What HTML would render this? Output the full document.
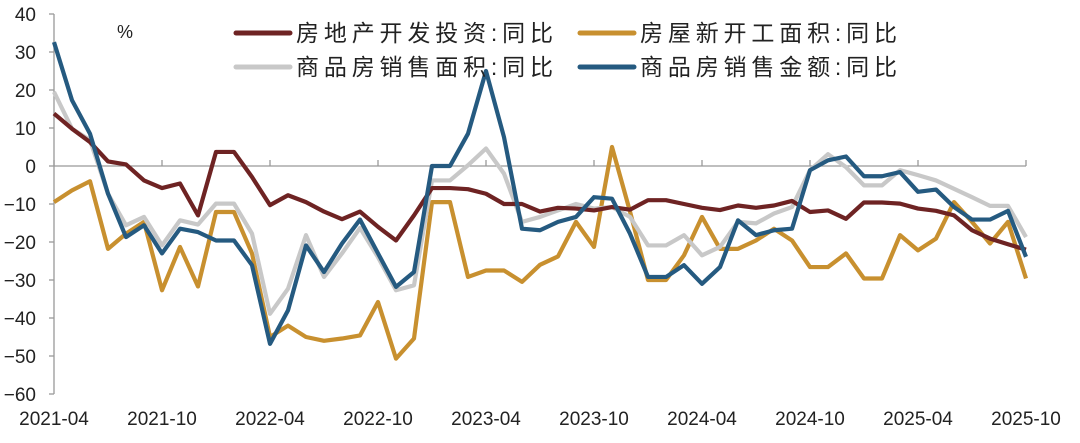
<!DOCTYPE html>
<html><head><meta charset="utf-8"><style>
html,body{margin:0;padding:0;background:#fff;}
svg{display:block;font-family:"Liberation Sans","Noto Sans CJK SC",sans-serif;}
</style></head><body>
<svg id="chart" width="1080" height="443"></svg>
<script>
const months = ["2021-04","2021-05","2021-06","2021-07","2021-08","2021-09","2021-10","2021-11","2021-12","2022-01","2022-02","2022-03","2022-04","2022-05","2022-06","2022-07","2022-08","2022-09","2022-10","2022-11","2022-12","2023-01","2023-02","2023-03","2023-04","2023-05","2023-06","2023-07","2023-08","2023-09","2023-10","2023-11","2023-12","2024-01","2024-02","2024-03","2024-04","2024-05","2024-06","2024-07","2024-08","2024-09","2024-10","2024-11","2024-12","2025-01","2025-02","2025-03","2025-04","2025-05","2025-06","2025-07","2025-08","2025-09","2025-10"];
const investment = [13.8,9.8,6.3,1.2,0.4,-3.8,-5.8,-4.6,-13,3.7,3.7,-2.9,-10.3,-7.7,-9.5,-12,-14,-12,-16,-19.6,-13,-5.8,-5.8,-6.1,-7.3,-10,-10,-12,-11,-11.2,-11.7,-10.8,-11.5,-9,-9,-10,-11,-11.6,-10.4,-11,-10.4,-9.2,-12.1,-11.7,-13.9,-9.6,-9.6,-9.9,-11.2,-11.8,-13,-16.9,-19.1,-20.6,-22];
const newStarts = [-9.5,-6.4,-4,-21.8,-17.8,-14.7,-32.7,-21.3,-31.7,-12.1,-12.1,-23,-45,-42,-45,-46,-45.4,-44.6,-35.8,-50.7,-45.4,-9.5,-9.5,-29.2,-27.5,-27.5,-30.5,-26,-23.8,-14.7,-21.3,5,-12,-30,-30,-23.5,-13.4,-21.8,-21.8,-19.6,-16.5,-19.6,-26.6,-26.6,-23,-29.6,-29.6,-18.2,-22.2,-19.1,-9.5,-14.7,-20.4,-14.7,-29.6];
const salesArea = [19.5,9.8,6.8,-7.3,-15.6,-13.4,-20.9,-14.3,-15.4,-9.9,-9.9,-17.8,-38.9,-32.3,-18.2,-29.2,-23,-16.3,-24,-32.7,-31.4,-3.8,-3.8,0.2,4.6,-2,-14.7,-13.4,-11.7,-10,-11.2,-10.8,-13.4,-20.9,-20.9,-18.2,-23.5,-21.3,-14.7,-15.1,-12.5,-10.8,-1.1,3.1,-0.3,-5.1,-5.1,-1.1,-2.4,-3.8,-6,-8.2,-10.5,-10.5,-18.7];
const salesValue = [32.6,17.3,8.5,-7.3,-18.7,-15.6,-23,-16.5,-17.4,-19.6,-19.6,-26.1,-46.8,-38,-20.9,-27.9,-20.4,-14.1,-23,-31.8,-27.9,0,0,8.5,25,7.6,-16.5,-16.9,-14.7,-13.4,-8.2,-8.6,-17.8,-29.2,-29.2,-26.1,-31,-26.6,-14.3,-18.2,-16.9,-16.5,-1.1,1.5,2.5,-2.7,-2.7,-1.6,-6.8,-6.2,-10.8,-14.1,-14.1,-11.8,-23.9];
const yTicks = [40,30,20,10,0,-10,-20,-30,-40,-50,-60];
const xTickLabels = ["2021-04","2021-10","2022-04","2022-10","2023-04","2023-10","2024-04","2024-10","2025-04","2025-10"];
const seriesNames = ["房地产开发投资:同比","房屋新开工面积:同比","商品房销售面积:同比","商品房销售金额:同比"];

const NS="http://www.w3.org/2000/svg";
const svg=document.getElementById('chart');
const X0=54, X1=1026, Y0=166, PER10=38;
const xScale=i=>X0+(X1-X0)*i/(months.length-1);
const yScale=v=>Y0-v*PER10/10;
function mk(tag,attrs,parent){const e=document.createElementNS(NS,tag);for(const k in attrs)e.setAttribute(k,attrs[k]);(parent||svg).appendChild(e);return e;}

// y axis
const yAxis=mk('line',{x1:X0,y1:yScale(40),x2:X0,y2:yScale(-60),stroke:'#999','stroke-width':1.3});


yTicks.forEach(t=>{
  const tk=mk('line',{x1:X0-5,y1:yScale(t),x2:X0,y2:yScale(t),stroke:'#999','stroke-width':1.3});
  
  
  const lb=mk('text',{x:36,y:yScale(t)+7,'text-anchor':'end','font-size':19,fill:'#222'});
  lb.textContent=(t<0?'\u2212'+(-t):String(t));
  
  
});
// zero line / x axis
const xAxis=mk('line',{x1:X0,y1:Y0,x2:X1,y2:Y0,stroke:'#999','stroke-width':1.3});


xTickLabels.forEach(l=>{
  const i=months.indexOf(l);
  const x=xScale(i);
  const tk=mk('line',{x1:x,y1:Y0-6,x2:x,y2:Y0,stroke:'#999','stroke-width':1.3});
  
  
  const lb=mk('text',{x:x,y:425,'text-anchor':'middle','font-size':19,fill:'#222'});
  lb.textContent=l;
  
  
});
const unit=mk('text',{x:117,y:38,'font-size':18,fill:'#222'});
unit.textContent='%';



const series=[
  {d:newStarts,c:'#c8902f',n:'line-new-starts'},
  {d:salesArea,c:'#c8c8c8',n:'line-sales-area'},
  {d:investment,c:'#6e2323',n:'line-investment'},
  {d:salesValue,c:'#255a80',n:'line-sales-value'}
];
series.forEach(s=>{
  const p=mk('polyline',{points:s.d.map((v,i)=>xScale(i)+','+yScale(v)).join(' '),fill:'none',stroke:s.c,'stroke-width':4.2,'stroke-linejoin':'round'});
  
  
});

// legend
const leg=[
  {x:236,y:33,c:'#6e2323',t:seriesNames[0],n:'legend-investment'},
  {x:580,y:33,c:'#c8902f',t:seriesNames[1],n:'legend-new-starts'},
  {x:236,y:67,c:'#c8c8c8',t:seriesNames[2],n:'legend-sales-area'},
  {x:580,y:67,c:'#255a80',t:seriesNames[3],n:'legend-sales-value'}
];
leg.forEach(l=>{
  const g=mk('g',{});
  
  
  mk('line',{x1:l.x,y1:l.y,x2:l.x+54,y2:l.y,stroke:l.c,'stroke-width':5,'stroke-linecap':'round'},g);
  const t=mk('text',{x:l.x+60,y:l.y+8,'font-size':23,fill:'#222',textLength:257,lengthAdjust:'spacing'},g);
  t.textContent=l.t;
});
</script>
</body></html>
